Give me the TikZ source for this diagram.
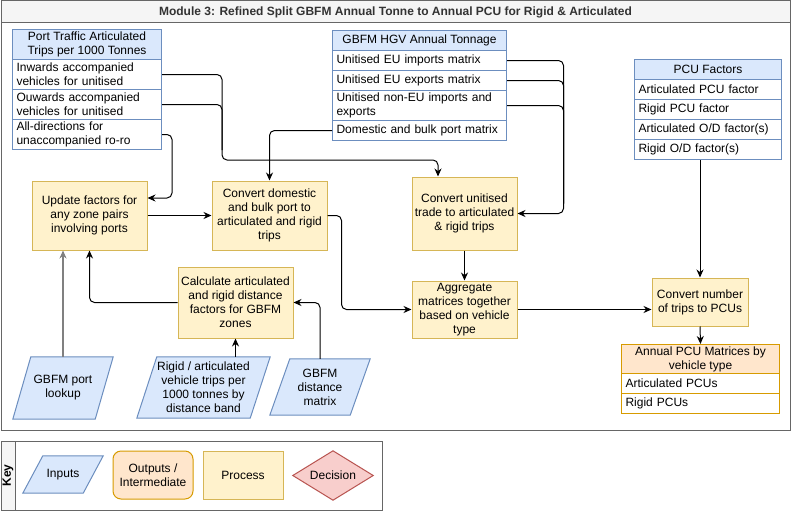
\documentclass[tikz,border=0pt]{standalone}
\usepackage{fontspec}
\setmainfont{Liberation Sans}
\usetikzlibrary{arrows.meta,backgrounds,calc}
\definecolor{inF}{HTML}{DAE8FC}
\definecolor{inS}{HTML}{6C8EBF}
\definecolor{prF}{HTML}{FFF2CC}
\definecolor{prS}{HTML}{D6B656}
\definecolor{ouF}{HTML}{FFE6CC}
\definecolor{ouS}{HTML}{D79B00}
\definecolor{deF}{HTML}{F8CECC}
\definecolor{deS}{HTML}{B85450}
\definecolor{frS}{HTML}{666666}
\definecolor{frF}{HTML}{F5F5F5}
\definecolor{ttl}{HTML}{333333}
\begin{document}
\begin{tikzpicture}[x=1pt,y=-1pt,
  txt/.style={font=\fontsize{12}{14}\selectfont, inner sep=0pt, align=center},
  proc/.style={txt, draw=prS, fill=prF, line width=1pt},
  outbox/.style={txt, draw=ouS, fill=ouF, line width=1pt, rounded corners=8pt},
  inbox/.style={txt},
  inshape/.style={draw=inS, fill=inF, line width=1pt},
  decshape/.style={draw=deS, fill=deF, line width=1pt},
  hdr/.style={txt, draw=inS, fill=inF, line width=1pt, anchor=north west},
  row/.style={txt, draw=inS, fill=white, line width=1pt, anchor=north west, align=left, inner xsep=4pt},
  ohdr/.style={hdr, draw=ouS, fill=ouF},
  orow/.style={row, draw=ouS},
  conn/.style={draw=black, line width=1pt, rounded corners=5pt},
  arr/.style={conn, -{Stealth[length=8pt,width=7pt]}},
  frame/.style={draw=frS, line width=1pt},
]
\useasboundingbox (0,0) rectangle (791,511);
\begin{scope}[on background layer]
  \fill[white] (0,0) rectangle (791,511);
\end{scope}

% main frame
\filldraw[frame, fill=frF] (1,1) rectangle (790,23);
\draw[frame] (1,1) rectangle (790,430);
\node[font=\bfseries\fontsize{12}{14}\selectfont, text=ttl, inner sep=0pt] (title) at (395.5,12)
  {Module 3: Refined Split GBFM Annual Tonne to Annual PCU for Rigid \& Articulated};

% Port traffic table
\node[hdr, minimum width=149, minimum height=30] (pth) at (12,29) {Port Traffic Articulated\\Trips per 1000 Tonnes};
\node[row, text width=141, minimum height=30] (inw) at (12,59) {Inwards accompanied\\vehicles for unitised};
\node[row, text width=141, minimum height=30] (ouw) at (12,89) {Ouwards accompanied\\vehicles for unitised};
\node[row, text width=141, minimum height=30] (all) at (12,119) {All-directions for\\unaccompanied ro-ro};

% GBFM HGV table
\node[hdr, minimum width=174, minimum height=20] (hgv) at (332,30) {GBFM HGV Annual Tonnage};
\node[row, text width=166, minimum height=20] (eui) at (332,50) {Unitised EU imports matrix};
\node[row, text width=166, minimum height=20] (eue) at (332,70) {Unitised EU exports matrix};
\node[row, text width=166, minimum height=30] (neu) at (332,90) {Unitised non-EU imports and\\exports};
\node[row, text width=166, minimum height=20] (dbp) at (332,120) {Domestic and bulk port matrix};

% PCU factors table
\node[hdr, minimum width=147, minimum height=20] (pcuh) at (634,59) {PCU Factors};
\node[row, text width=139, minimum height=20] (apf) at (634,79) {Articulated PCU factor};
\node[row, text width=139, minimum height=20] (rpf) at (634,99) {Rigid PCU factor};
\node[row, text width=139, minimum height=20] (aod) at (634,119) {Articulated O/D factor(s)};
\node[row, text width=139, minimum height=20] (rod) at (634,139) {Rigid O/D factor(s)};

% Annual PCU matrices table
\node[ohdr, minimum width=158, minimum height=29] (apmh) at (621,344) {Annual PCU Matrices by\\vehicle type};
\node[orow, text width=150, minimum height=20] (apc) at (621,373) {Articulated PCUs};
\node[orow, text width=150, minimum height=20] (rpc) at (621,393) {Rigid PCUs};

% processes
\node[proc, minimum width=115, minimum height=69] (upd) at (89.5,215.5) {Update factors for\\any zone pairs\\involving ports};
\node[proc, minimum width=115, minimum height=69] (dom) at (269.5,215.5) {Convert domestic\\and bulk port to\\articulated and rigid\\trips};
\node[proc, minimum width=115, minimum height=71] (calc) at (235.5,302.5) {Calculate articulated\\and rigid distance\\factors for GBFM\\zones};
\node[proc, minimum width=105, minimum height=73] (unit) at (464.5,213.5) {Convert unitised\\trade to articulated\\\& rigid trips};
\node[proc, minimum width=105, minimum height=57] (agg) at (464.5,309.5) {Aggregate\\matrices together\\based on vehicle\\type};
\node[proc, minimum width=96, minimum height=48] (conv) at (700,302) {Convert number\\of trips to PCUs};

% inputs (parallelograms)
\node[inbox, minimum width=100, minimum height=62] (lookup) at (63,388) {GBFM port\\lookup};
\node[inbox, minimum width=133, minimum height=61] (rig) at (203.5,387.5) {Rigid / articulated\\vehicle trips per\\1000 tonnes by\\distance band};
\node[inbox, minimum width=100, minimum height=56] (dist) at (320,387) {GBFM\\distance\\matrix};
\begin{scope}[on background layer]
  \draw[inshape] ([xshift=18pt]lookup.north west) -- (lookup.north east) -- ([xshift=-18pt]lookup.south east) -- (lookup.south west) -- cycle;
  \draw[inshape] ([xshift=20pt]rig.north west) -- (rig.north east) -- ([xshift=-20pt]rig.south east) -- (rig.south west) -- cycle;
  \draw[inshape] ([xshift=20pt]dist.north west) -- (dist.north east) -- ([xshift=-20pt]dist.south east) -- (dist.south west) -- cycle;
\end{scope}

% connectors
\coordinate (j1) at (222,160);
\coordinate (j2) at ($(unit.east)+(46,0)$);
\draw[arr] (inw.east) -| (j1) -| ([xshift=-26.5pt]unit.north);
\draw[conn] (ouw.east) -| ($(j1)+(0,-10)$);
\draw[arr] (all.east) -| (172,198) -- (upd.east |- 0,198);
\draw[arr] (dbp.west) -| (dom.north);
\draw[arr] (eui.east) -| (j2) -- (unit.east);
\draw[conn] (eue.east) -| ($(j2)+(0,-10)$);
\draw[conn] (neu.east) -| ($(j2)+(0,-10)$);
\draw[arr] (upd.east) -- (dom.west);
\draw[arr] (dom.east) -| ($(agg.west)+(-70,0)$) -- (agg.west);
\draw[arr] (unit.south) -- (agg.north);
\draw[arr] (agg.east) -- (agg.east -| conv.west);
\draw[arr] (rod.south -| conv.north) -- (conv.north);
\draw[arr] (conv.south) -- (apmh.north);
\draw[arr] (calc.west) -| (upd.south);
\draw[arr, draw=gray, line width=2pt] (lookup.north) -- (lookup.north |- upd.south);
\draw[arr] (calc.south |- rig.north) -- (calc.south);
\draw[arr] (dist.north) |- (calc.east);

% key
\draw[frame] (1,441) rectangle (382,510);
\filldraw[frame, fill=frF] (1,441) rectangle (15,510);
\node[font=\bfseries\fontsize{12}{14}\selectfont, rotate=90, inner sep=0pt] (keylbl) at (8,475.5) {Key};
\node[inbox, minimum width=80, minimum height=37] (kin) at (63,474.5) {Inputs};
\node[outbox, minimum width=80, minimum height=48] (kout) at (153,475) {Outputs /\\Intermediate};
\node[proc, minimum width=80, minimum height=48] (kproc) at (243,475) {Process};
\node[inbox, minimum width=80, minimum height=49] (kdec) at (333,475.5) {Decision};
\begin{scope}[on background layer]
  \draw[inshape] ([xshift=20pt]kin.north west) -- (kin.north east) -- ([xshift=-20pt]kin.south east) -- (kin.south west) -- cycle;
  \draw[decshape] (kdec.west) -- (kdec.north) -- (kdec.east) -- (kdec.south) -- cycle;
\end{scope}
\end{tikzpicture}
\end{document}
